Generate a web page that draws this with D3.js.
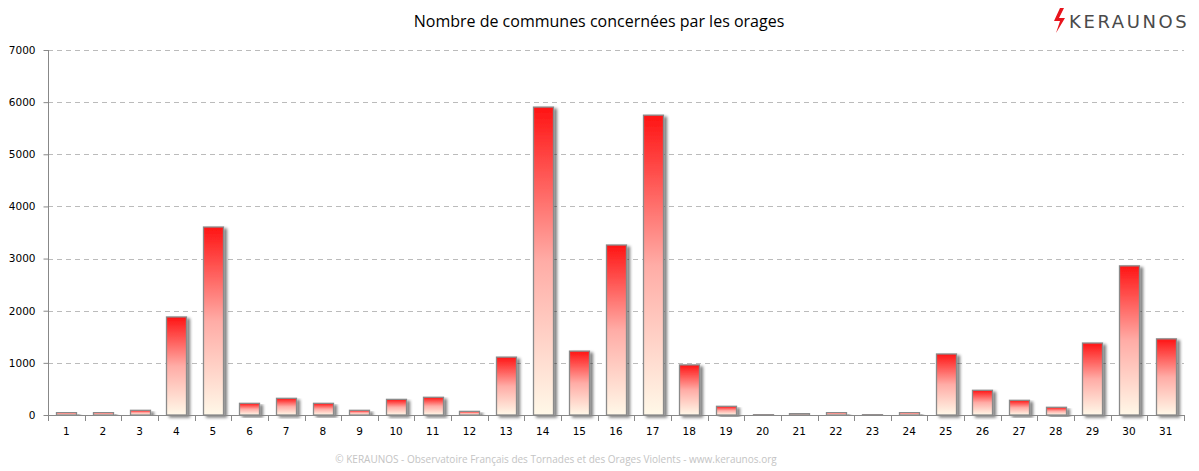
<!DOCTYPE html>
<html><head><meta charset="utf-8">
<script src="https://cdn.jsdelivr.net/npm/d3@7"></script>
<style>body{margin:0;background:#fff}svg{display:block}</style>
</head><body>
<svg id="c" width="1199" height="471"></svg>
<script>
const days = d3.range(1, 32).map(String);
const values = [50,50,90,1880,3605,224,320,224,90,300,340,70,1110,5905,1225,3260,5750,960,167,5,30,50,5,50,1170,474,282,148,1380,2860,1460];
const yTicks = [0,1000,2000,3000,4000,5000,6000,7000];
const title = "Nombre de communes concernées par les orages";
const footer = "© KERAUNOS - Observatoire Français des Tornades et des Orages Violents - www.keraunos.org";

const svg = d3.select("#c");
const m = {left:48, right:1184, top:50, bottom:415};
const x = d3.scaleBand().domain(days).range([m.left, m.right]).paddingInner(0.45).paddingOuter(0.225);
const y = d3.scaleLinear().domain([0,7000]).range([m.bottom, m.top]);

const defs = svg.append("defs");
const g = defs.append("linearGradient").attr("id","bg").attr("x1",0).attr("y1",0).attr("x2",0).attr("y2",1);
g.append("stop").attr("offset","0%").attr("stop-color","#ff1414");
g.append("stop").attr("offset","50%").attr("stop-color","#ffaca6");
g.append("stop").attr("offset","100%").attr("stop-color","#fff8e8");
const f = defs.append("filter").attr("id","sh").attr("x","-30%").attr("y","-10%").attr("width","180%").attr("height","130%");
f.append("feGaussianBlur").attr("in","SourceAlpha").attr("stdDeviation",1.8).attr("result","b");
f.append("feOffset").attr("in","b").attr("dx",3).attr("dy",2).attr("result","o");
f.append("feComponentTransfer").attr("in","o").attr("result","o2").append("feFuncA").attr("type","linear").attr("slope",0.5);
const fm = f.append("feMerge"); fm.append("feMergeNode").attr("in","o2"); fm.append("feMergeNode").attr("in","SourceGraphic");

// grid
svg.append("g").selectAll("line").data(yTicks.filter(d=>d>0)).join("line")
  .attr("x1",m.left).attr("x2",m.right).attr("y1",d=>Math.round(y(d))+0.5).attr("y2",d=>Math.round(y(d))+0.5)
  .attr("stroke","#bbb").attr("stroke-dasharray","5,4");

// bars
svg.append("g").selectAll("rect").data(values).join("rect")
  .attr("x",(d,i)=>Math.round(x(days[i]))+0.5).attr("width",Math.round(x.bandwidth()))
  .attr("y",d=>y(d)).attr("height",d=>Math.max(0,y(0)-y(d)))
  .attr("fill","url(#bg)").attr("stroke","#8a8a8a").attr("stroke-width",1.3)
  .attr("filter","url(#sh)");

// y axis
const ya = svg.append("g").attr("transform",`translate(${m.left+0.5},0)`)
  .call(d3.axisLeft(y).tickValues(yTicks).tickSize(5).tickPadding(8).tickFormat(d3.format("d")));
ya.selectAll("path,line").attr("stroke","#888");
ya.select(".domain").attr("d",`M0,${m.top}V${m.bottom}`);
ya.selectAll("text").attr("font-family","DejaVu Sans, Verdana, sans-serif").attr("font-size",10.5).attr("fill","#000");

// x axis
const xa = svg.append("g").attr("transform",`translate(0,${m.bottom+0.5})`)
  .call(d3.axisBottom(x).tickSize(0).tickPadding(12));
xa.select(".domain").attr("stroke","#888").attr("d",`M${m.left},0H${m.right}`);
xa.selectAll("text").attr("font-family","DejaVu Sans, Verdana, sans-serif").attr("font-size",10.5).attr("fill","#000");
svg.append("g").selectAll("line").data(d3.range(0, days.length+1)).join("line")
  .attr("x1",i=>Math.round(m.left + i*(m.right-m.left)/days.length)+0.5)
  .attr("x2",i=>Math.round(m.left + i*(m.right-m.left)/days.length)+0.5)
  .attr("y1",m.bottom).attr("y2",m.bottom+6).attr("stroke","#888");

// title
svg.append("text").attr("x",599).attr("y",27).attr("text-anchor","middle")
  .attr("font-family","Open Sans, Liberation Sans, sans-serif").attr("font-size",16).attr("fill","#000").text(title);

// footer
svg.append("text").attr("x",556).attr("y",463).attr("text-anchor","middle")
  .attr("font-family","Open Sans, Liberation Sans, sans-serif").attr("font-size",10).attr("fill","#c4c4c4").text(footer);

// logo
const lg = svg.append("g").attr("transform","translate(1052,8)");
lg.append("path").attr("d","M8,0 L2,13 L8,13 L4,25 L13,10 L7,10 L12,0 Z").attr("fill","#e8141c");
lg.append("text").attr("x",17).attr("y",20).attr("font-family","DejaVu Sans, sans-serif").attr("font-size",18)
  .attr("letter-spacing",2.6).attr("fill","#4a4a4a").text("KERAUNOS");
</script>
</body></html>
